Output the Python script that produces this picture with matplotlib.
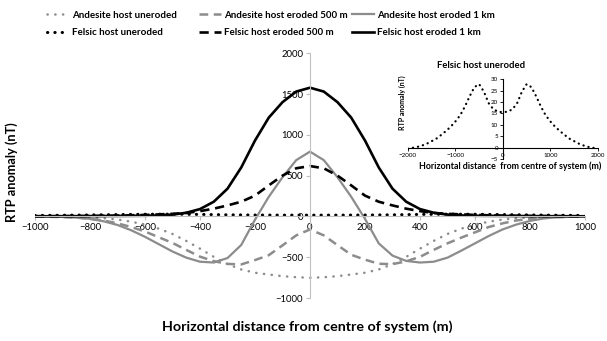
import numpy as np
import matplotlib
matplotlib.use("Agg")
import matplotlib.pyplot as plt
from matplotlib.lines import Line2D

plt.rcParams['font.family'] = ['Lato', 'DejaVu Sans']

# distancia horizontal (m) para las curvas principales
x = np.arange(-1000, 1001, 50)

andesite_uneroded = [-1, -2, -3, -6, -12, -22, -38, -65, -100, -150, -215, -300, -395, -495, -585, -650,
                     -690, -712, -732, -745, -752, -745, -732, -712, -690, -650, -585, -495, -395, -300,
                     -215, -150, -100, -65, -38, -22, -12, -6, -3, -2, -1]
andesite_500 = [-2, -4, -8, -15, -28, -50, -85, -130, -185, -255, -325, -410, -493, -548, -582, -588,
                -535, -475, -355, -232, -160, -232, -352, -470, -530, -580, -585, -550, -495, -410,
                -330, -260, -195, -130, -85, -50, -28, -15, -8, -4, -2]
andesite_1km = [-1, -3, -6, -14, -30, -60, -105, -170, -250, -340, -430, -505, -555, -565, -510, -350,
                -40, 240, 480, 690, 794, 690, 480, 240, -30, -330, -480, -545, -565, -555, -505,
                -420, -330, -240, -160, -100, -55, -25, -10, -4, -1]
felsic_500 = [3, 3, 4, 5, 6, 8, 10, 14, 18, 25, 32, 42, 65, 95, 135, 180, 255, 380, 500, 590, 617,
              590, 500, 380, 255, 180, 135, 95, 65, 42, 32, 25, 18, 14, 10, 8, 6, 5, 4, 3, 3]
felsic_1km = [2, 2, 3, 3, 4, 5, 6, 7, 8, 12, 22, 45, 90, 180, 340, 600, 930, 1210, 1400, 1530, 1577,
              1530, 1400, 1210, 930, 600, 340, 180, 90, 45, 22, 12, 8, 7, 6, 5, 4, 3, 3, 2, 2]

# recuadro: huesped felsico sin erosion
x_inset = np.arange(-2000, 2001, 100)
felsic_uneroded = [-0.4, 0.0, 0.4, 1.0, 1.8, 2.9, 4.0, 5.6, 7.3, 9.2, 11.5, 14.2, 18.0, 22.5, 26.5,
                   27.8, 24.5, 19.5, 16.8, 15.8, 15.5, 15.8, 16.8, 19.5, 24.5, 27.8, 26.5, 22.5, 18.0,
                   14.2, 11.5, 9.2, 7.3, 5.6, 4.0, 2.9, 1.8, 1.0, 0.4, 0.0, -0.4]

xticks = [-1000, -800, -600, -400, -200, 0, 200, 400, 600, 800, 1000]
yticks = [-1000, -500, 0, 500, 1000, 1500, 2000]

gris = '#8c8c8c'
punto_negro = (0, (0.1, 2.3))
punto_gris = (0, (0.1, 3.0))
guion = (0, (3.5, 2.2))

fig = plt.figure(figsize=(6.07, 3.41), dpi=100)
ax = fig.add_axes([0.0577, 0.126, 0.906, 0.718])

ax.plot(x, andesite_uneroded, color=gris, lw=1.8, ls=punto_gris, dash_capstyle='round')
ax.plot(x, andesite_500, color=gris, lw=1.8, ls=guion)
ax.plot(x, andesite_1km, color=gris, lw=1.6)
mask = (x_inset >= -1000) & (x_inset <= 1000)
ax.plot(x_inset[mask], np.array(felsic_uneroded)[mask], color='black', lw=2.2, ls=punto_negro,
        dash_capstyle='round')
ax.plot(x, felsic_500, color='black', lw=1.9, ls=guion)
ax.plot(x, felsic_1km, color='black', lw=1.9)

ax.set_xlim(-1000, 1000)
ax.set_ylim(-1000, 2000)
ax.set_xticks(xticks)
ax.set_yticks(yticks)
ax.spines['left'].set_position(('data', 0))
ax.spines['bottom'].set_position(('data', 0))
ax.spines['top'].set_visible(False)
ax.spines['right'].set_visible(False)
for s in ['left', 'bottom']:
    ax.spines[s].set_color('#c0c0c0')
    ax.spines[s].set_linewidth(0.8)
ax.tick_params(axis='both', labelsize=6.8, length=3, color='#c0c0c0', width=0.8, pad=2)
ax.patch.set_alpha(0)

fig.text(0.02, 0.495, 'RTP anomaly (nT)', rotation=90, ha='center', va='center',
         fontsize=9.2, fontweight='bold')
fig.text(0.506, 0.041, 'Horizontal distance from centre of system (m)', ha='center', va='center',
         fontsize=10.3, fontweight='bold')

# leyenda: una por columna
columnas = [
    (47, [(Line2D([], [], color=gris, lw=1.8, ls=punto_gris, dash_capstyle='round'), 'Andesite host uneroded'),
          (Line2D([], [], color='black', lw=2.2, ls=punto_negro, dash_capstyle='round'), 'Felsic host uneroded')]),
    (199, [(Line2D([], [], color=gris, lw=1.8, ls=guion), 'Andesite host eroded 500 m'),
           (Line2D([], [], color='black', lw=1.9, ls=guion), 'Felsic host eroded 500 m')]),
    (352, [(Line2D([], [], color=gris, lw=1.6), 'Andesite host eroded 1 km'),
           (Line2D([], [], color='black', lw=1.9), 'Felsic host eroded 1 km')]),
]
for x0, items in columnas:
    fig.legend([h for h, _ in items], [t for _, t in items], loc='upper left',
               bbox_to_anchor=(x0 / 607, 1 - 10.5 / 341), frameon=False, borderpad=0, borderaxespad=0,
               prop={'size': 7.0, 'weight': 'bold'}, handlelength=2.3, handletextpad=0.25,
               labelspacing=0.9)

# recuadro
axi = fig.add_axes([0.672, 0.533, 0.313, 0.235])
axi.plot(x_inset, felsic_uneroded, color='black', lw=1.6, ls=(0, (0.1, 2.2)), dash_capstyle='round')
axi.set_xlim(-2000, 2000)
axi.set_ylim(-5, 30)
axi.set_xticks([-2000, -1000, 0, 1000, 2000])
axi.set_yticks([-5, 0, 5, 10, 15, 20, 25, 30])
axi.spines['left'].set_position(('data', 0))
axi.spines['bottom'].set_position(('data', 0))
axi.spines['top'].set_visible(False)
axi.spines['right'].set_visible(False)
for s in ['left', 'bottom']:
    axi.spines[s].set_color('black')
    axi.spines[s].set_linewidth(0.8)
axi.tick_params(axis='both', labelsize=4.5, length=2, width=0.6, pad=1.5)
axi.patch.set_alpha(0)
fig.text(481 / 607, 1 - 65 / 341, 'Felsic host uneroded', ha='center', va='center',
         fontsize=6.8, fontweight='bold')
fig.text(402 / 607, 1 - 103 / 341, 'RTP anomaly (nT)', rotation=90, ha='center', va='center',
         fontsize=5.0, fontweight='bold')
fig.text(510 / 607, 1 - 166 / 341, 'Horizontal distance  from centre of system (m)', ha='center',
         va='center', fontsize=6.4, fontweight='bold')

fig.savefig('out.png', dpi=100)
